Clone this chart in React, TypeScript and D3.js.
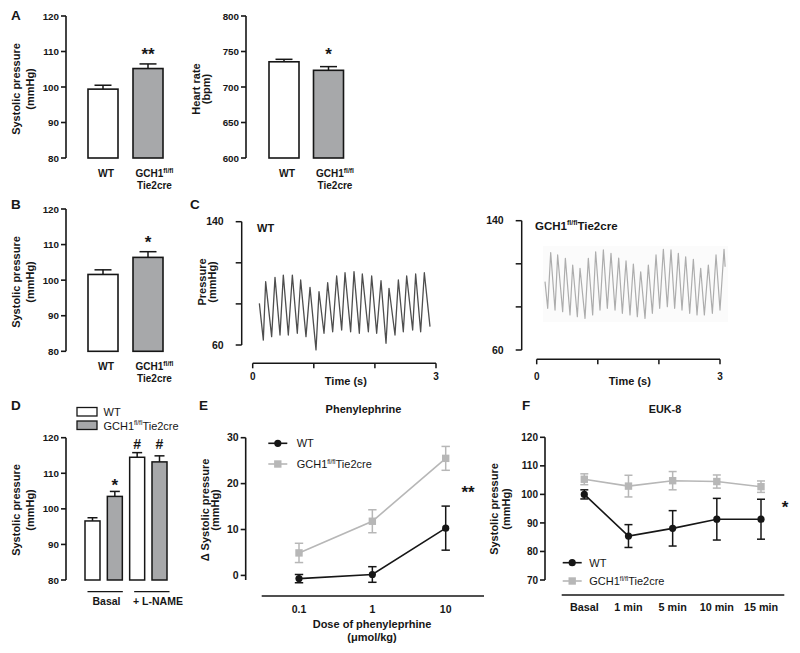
import React from "react";
import * as d3 from "d3";

const FONT = "'Liberation Sans', Arial, Helvetica, sans-serif";
const INK = "#161616";
const KO_GRAY = "#b7b7b7";
const BAR_GRAY = "#a7a8aa";

// ---------- data ----------
const groups = ["WT", "GCH1fl/fl Tie2cre"];
const sbpA = [99.4, 105.2];
const sbpAErr = [1.1, 1.3];
const hrA = [735.5, 723.5];
const hrAErr = [3.5, 5.2];
const sbpB = [101.6, 106.4];
const sbpBErr = [1.3, 1.6];
const sbpTicks = [80, 90, 100, 110, 120];
const hrTicks = [600, 650, 700, 750, 800];

const dCats = ["WT basal", "KO basal", "WT L-NAME", "KO L-NAME"];
const dVals = [96.6, 103.5, 114.5, 113.2];
const dErr = [0.9, 1.4, 1.3, 1.7];

const doses = [0.1, 1, 10];
const doseLabels = ["0.1", "1", "10"];
const eWT = [-0.7, 0.2, 10.3];
const eWTErr = [0.9, 1.7, 4.8];
const eKO = [4.9, 11.8, 25.5];
const eKOErr = [2.1, 2.5, 2.6];
const eTicks = [0, 10, 20, 30];

const fCats = ["Basal", "1 min", "5 min", "10 min", "15 min"];
const fWT = [100, 85.4, 88.1, 91.3, 91.3];
const fWTErr = [1.6, 4.0, 6.2, 7.3, 7.0];
const fKO = [105.3, 102.9, 104.8, 104.5, 102.7];
const fKOErr = [1.9, 3.8, 3.2, 2.3, 2.0];
const fTicks = [70, 80, 90, 100, 110, 120];

// pressure traces (time s, mmHg), read peak/trough by peak/trough
const wtTraceT = [0.109, 0.174, 0.212, 0.31, 0.365, 0.447, 0.501, 0.583, 0.649, 0.73, 0.785, 0.872, 0.938, 1.036, 1.085, 1.167, 1.227, 1.309, 1.374, 1.456, 1.511, 1.603, 1.658, 1.745, 1.794, 1.893, 1.947, 2.029, 2.1, 2.182, 2.231, 2.329, 2.384, 2.465, 2.52, 2.618, 2.667, 2.749, 2.809, 2.902];
const wtTraceP = [87.0, 63.2, 101.1, 65.4, 103.9, 66.5, 105.4, 66.5, 105.4, 67.6, 102.2, 65.4, 97.4, 56.8, 94.6, 67.6, 100.4, 68.6, 104.8, 69.7, 106.9, 68.6, 107.6, 67.6, 106.1, 68.6, 104.8, 67.6, 101.7, 61.1, 96.8, 66.5, 102.2, 68.6, 104.8, 69.7, 106.1, 68.6, 106.9, 71.9];
const koTraceT = [0.136, 0.18, 0.229, 0.3, 0.343, 0.425, 0.469, 0.545, 0.589, 0.665, 0.709, 0.791, 0.845, 0.916, 0.965, 1.036, 1.091, 1.156, 1.216, 1.282, 1.342, 1.402, 1.462, 1.527, 1.582, 1.647, 1.702, 1.773, 1.827, 1.893, 1.953, 2.013, 2.073, 2.138, 2.198, 2.258, 2.318, 2.378, 2.438, 2.504, 2.564, 2.624, 2.684, 2.744, 2.809, 2.875, 2.935, 3.0, 3.066, 3.084];
const koTraceP = [102.3, 85.8, 120.3, 84.7, 118.8, 83.7, 116.7, 81.7, 112.6, 80.6, 110.5, 79.6, 116.7, 81.7, 120.8, 84.7, 121.9, 85.8, 119.8, 84.7, 116.9, 82.7, 115.1, 81.7, 113.2, 80.6, 108.4, 79.6, 112.6, 82.7, 118.8, 85.8, 122.3, 86.8, 121.9, 85.8, 119.8, 84.7, 117.7, 82.7, 116.1, 81.7, 110.5, 81.7, 112.6, 82.7, 118.8, 84.7, 122.3, 111.5];
const traceYTicks = [60, 86.67, 113.33, 140];
const traceXTicks = [0, 1, 2, 3];

// ---------- helpers ----------
function YAxis({ x, scale, ticks, fs = 9.8, tickLen = 5, gap = 2 }: any) {
  const [d0, d1] = scale.domain();
  return (
    <g>
      <line x1={x} x2={x} y1={scale(d0)} y2={scale(d1)} stroke={INK} strokeWidth={1.6} />
      {ticks.map((t: number) => (
        <g key={t}>
          <line x1={x - tickLen} x2={x} y1={scale(t)} y2={scale(t)} stroke={INK} strokeWidth={1.6} />
          <text x={x - tickLen - gap} y={scale(t)} dy="0.36em" textAnchor="end" fontSize={fs} fontWeight={700} fill={INK}>
            {t}
          </text>
        </g>
      ))}
    </g>
  );
}

function RotLabel({ x, y, lines, fs = 11, gap = 13 }: any) {
  return (
    <g>
      {lines.map((l: string, i: number) => (
        <text key={i} transform={`translate(${x + i * gap},${y}) rotate(-90)`} textAnchor="middle" fontSize={fs} fontWeight={700} fill={INK}>
          {l}
        </text>
      ))}
    </g>
  );
}

function KOName({ x, y, fs, anchor = "start", weight = 400, supFs }: any) {
  return (
    <text x={x} y={y} fontSize={fs} fontWeight={weight} textAnchor={anchor} fill={INK}>
      GCH1
      <tspan dy={-fs * 0.4} fontSize={supFs}>fl/fl</tspan>
      <tspan dy={fs * 0.4}>Tie2cre</tspan>
    </text>
  );
}

function BarChart({ xs, y, axisX, values, errs, barW, capW, ticks, labelY, sig, sigY }: any) {
  const base = y.domain()[0];
  return (
    <g>
      {values.map((v: number, i: number) => {
        const cx = xs(groups[i]);
        return (
          <g key={i}>
            <line x1={cx} x2={cx} y1={y(v)} y2={y(v + errs[i])} stroke={INK} strokeWidth={1.5} />
            <line x1={cx - capW / 2} x2={cx + capW / 2} y1={y(v + errs[i])} y2={y(v + errs[i])} stroke={INK} strokeWidth={1.5} />
            <rect x={cx - barW / 2} y={y(v)} width={barW} height={y(base) - y(v)} fill={i === 0 ? "#fff" : BAR_GRAY} stroke={INK} strokeWidth={1.6} />
          </g>
        );
      })}
      <YAxis x={axisX} scale={y} ticks={ticks} />
      <text x={xs(groups[0]) + 3} y={labelY} textAnchor="middle" fontSize={10.3} fontWeight={700} fill={INK}>WT</text>
      <text x={xs(groups[1]) + 6.5} y={labelY} textAnchor="middle" fontSize={10} fontWeight={700} fill={INK}>
        GCH1<tspan dy={-4} fontSize={6.8}>fl/fl</tspan>
      </text>
      <text x={xs(groups[1]) + 6.5} y={labelY + 11.5} textAnchor="middle" fontSize={10} fontWeight={700} fill={INK}>Tie2cre</text>
      <text x={xs(groups[1])} y={sigY} textAnchor="middle" fontSize={17} fontWeight={700} fill={INK}>{sig}</text>
    </g>
  );
}

function Marker({ kind, x, y }: any) {
  return kind === "circle" ? (
    <circle cx={x} cy={y} r={3.6} fill={INK} />
  ) : (
    <rect x={x - 3.7} y={y - 3.7} width={7.4} height={7.4} fill={KO_GRAY} />
  );
}

function Series({ xs, ys, vals, errs, color, kind, cap }: any) {
  const line = d3.line<number>().x((_, i) => xs[i]).y((v) => ys(v));
  return (
    <g>
      {vals.map((v: number, i: number) => (
        <g key={i}>
          <line x1={xs[i]} x2={xs[i]} y1={ys(v - errs[i])} y2={ys(v + errs[i])} stroke={color} strokeWidth={1.5} />
          <line x1={xs[i] - cap} x2={xs[i] + cap} y1={ys(v + errs[i])} y2={ys(v + errs[i])} stroke={color} strokeWidth={1.5} />
          <line x1={xs[i] - cap} x2={xs[i] + cap} y1={ys(v - errs[i])} y2={ys(v - errs[i])} stroke={color} strokeWidth={1.5} />
        </g>
      ))}
      <path d={line(vals) || ""} fill="none" stroke={color} strokeWidth={1.6} />
      {vals.map((v: number, i: number) => (
        <Marker key={"m" + i} kind={kind} x={xs[i]} y={ys(v)} />
      ))}
    </g>
  );
}

function LegendItem({ x, y, kind, color, children }: any) {
  return (
    <g>
      <line x1={x} x2={x + 19} y1={y} y2={y} stroke={color} strokeWidth={1.6} />
      <Marker kind={kind} x={x + 9.5} y={y} />
      {children}
    </g>
  );
}

function Trace({ t, p, xs, ys, color, width }: any) {
  const line = d3.line<number>().x((_, i) => xs(t[i])).y((v) => ys(v));
  return <path d={line(p) || ""} fill="none" stroke={color} strokeWidth={width} strokeLinejoin="round" />;
}

export default function App() {
  // A
  const aY = d3.scaleLinear().domain([80, 120]).range([158, 16]);
  const aX = d3.scalePoint<string>().domain(groups).range([103, 148]);
  const hrY = d3.scaleLinear().domain([600, 800]).range([158, 16]);
  const hrX = d3.scalePoint<string>().domain(groups).range([284, 328.5]);
  // B
  const bY = d3.scaleLinear().domain([80, 120]).range([351.3, 209]);
  // C
  const cWX = d3.scaleLinear().domain([0, 3]).range([252.7, 436]);
  const cWY = d3.scaleLinear().domain([60, 140]).range([345, 221.7]);
  const cKX = d3.scaleLinear().domain([0, 3]).range([536.7, 720]);
  const cKY = d3.scaleLinear().domain([60, 140]).range([350, 220.7]);
  // D
  const dY = d3.scaleLinear().domain([80, 120]).range([580, 437.7]);
  const dX = d3.scalePoint<string>().domain(dCats).range([92.5, 159.5]);
  // E
  const eX = d3.scaleLog().domain([0.1, 10]).range([299, 445.7]);
  const eY = d3.scaleLinear().domain([-1, 30]).range([580, 437.7]);
  // F
  const fX = d3.scalePoint<string>().domain(fCats).range([584.3, 761]);
  const fY = d3.scaleLinear().domain([70, 120]).range([580, 437.3]);

  const traceAxis = (ax: number, ys: any, xs: any, xAxisY: number) => (
    <g>
      <line x1={ax} x2={ax} y1={ys(60)} y2={ys(140)} stroke={INK} strokeWidth={1.5} />
      {traceYTicks.map((t) => (
        <line key={t} x1={ax - 6} x2={ax} y1={ys(t)} y2={ys(t)} stroke={INK} strokeWidth={1.5} />
      ))}
      <text x={ax - 18} y={ys(140)} dy="0.36em" textAnchor="end" fontSize={10.5} fontWeight={700} fill={INK}>140</text>
      <text x={ax - 18} y={ys(60)} dy="0.36em" textAnchor="end" fontSize={10.5} fontWeight={700} fill={INK}>60</text>
      <line x1={xs(0)} x2={xs(3)} y1={xAxisY} y2={xAxisY} stroke={INK} strokeWidth={1.5} />
      {traceXTicks.map((t) => (
        <line key={t} x1={xs(t)} x2={xs(t)} y1={xAxisY} y2={xAxisY + 5} stroke={INK} strokeWidth={1.5} />
      ))}
      <text x={xs(0)} y={380} textAnchor="middle" fontSize={10} fontWeight={700} fill={INK}>0</text>
      <text x={xs(3)} y={380} textAnchor="middle" fontSize={10} fontWeight={700} fill={INK}>3</text>
      <text x={(xs(0) + xs(3)) / 2 + 1.5} y={384.5} textAnchor="middle" fontSize={11} fontWeight={700} fill={INK}>Time (s)</text>
    </g>
  );

  const eXs = doses.map((d) => eX(d));
  const fXs = fCats.map((c) => fX(c) as number);

  return (
    <svg width={800} height={653} style={{ position: "absolute", left: 0, top: 0, background: "#fff" }} fontFamily={FONT}>
      <rect x={0} y={0} width={800} height={653} fill="#fff" />

      {/* panel letters */}
      <text x={11} y={20} fontSize={13.5} fontWeight={700} fill={INK}>A</text>
      <text x={11} y={208.5} fontSize={13.5} fontWeight={700} fill={INK}>B</text>
      <text x={190} y={208.5} fontSize={13.5} fontWeight={700} fill={INK}>C</text>
      <text x={11} y={410} fontSize={13.5} fontWeight={700} fill={INK}>D</text>
      <text x={199} y={410} fontSize={13.5} fontWeight={700} fill={INK}>E</text>
      <text x={522} y={410} fontSize={13.5} fontWeight={700} fill={INK}>F</text>

      {/* A left */}
      <RotLabel x={20} y={89} lines={["Systolic pressure", "(mmHg)"]} gap={14} />
      <BarChart xs={aX} y={aY} axisX={66} values={sbpA} errs={sbpAErr} barW={30} capW={17} ticks={sbpTicks} labelY={177} sig="**" sigY={60} />
      {/* A right */}
      <RotLabel x={200} y={89} lines={["Heart rate", "(bpm)"]} gap={10} />
      <BarChart xs={hrX} y={hrY} axisX={246} values={hrA} errs={hrAErr} barW={30} capW={17} ticks={hrTicks} labelY={177} sig="*" sigY={60} />

      {/* B */}
      <RotLabel x={20} y={282} lines={["Systolic pressure", "(mmHg)"]} gap={14} />
      <BarChart xs={aX} y={bY} axisX={66} values={sbpB} errs={sbpBErr} barW={30} capW={17} ticks={sbpTicks} labelY={370} sig="*" sigY={248} />

      {/* C WT trace */}
      <RotLabel x={206} y={282} lines={["Pressure", "(mmHg)"]} gap={9.5} />
      {traceAxis(241.7, cWY, cWX, 363.3)}
      <text x={257} y={231.5} fontSize={11} fontWeight={700} fill={INK}>WT</text>
      <Trace t={wtTraceT} p={wtTraceP} xs={cWX} ys={cWY} color="#4e4e4e" width={1.3} />

      {/* C KO trace */}
      {traceAxis(521.7, cKY, cKX, 359.3)}
      <KOName x={535} y={230} fs={11.5} weight={700} supFs={7} />
      <rect x={543} y={246} width={185} height={76} fill="#fbfbfb" />
      <Trace t={koTraceT} p={koTraceP} xs={cKX} ys={cKY} color="#adadad" width={1.2} />

      {/* D */}
      <rect x={77} y={407.5} width={20} height={8.5} fill="#fff" stroke={INK} strokeWidth={1.3} />
      <text x={103.5} y={415.5} fontSize={11} fill={INK}>WT</text>
      <rect x={77} y={421} width={20} height={8.5} fill={BAR_GRAY} stroke={INK} strokeWidth={1.3} />
      <KOName x={103.5} y={429.5} fs={11} supFs={6.5} />
      <RotLabel x={20} y={510} lines={["Systolic pressure", "(mmHg)"]} gap={14} />
      {dVals.map((v, i) => {
        const cx = dX(dCats[i]) as number;
        return (
          <g key={i}>
            <line x1={cx} x2={cx} y1={dY(v)} y2={dY(v + dErr[i])} stroke={INK} strokeWidth={1.5} />
            <line x1={cx - 5} x2={cx + 5} y1={dY(v + dErr[i])} y2={dY(v + dErr[i])} stroke={INK} strokeWidth={1.5} />
            <rect x={cx - 7.5} y={dY(v)} width={15} height={dY(80) - dY(v)} fill={i % 2 === 0 ? "#fff" : BAR_GRAY} stroke={INK} strokeWidth={1.5} />
          </g>
        );
      })}
      <YAxis x={66} scale={dY} ticks={sbpTicks} />
      <text x={dX(dCats[1])} y={491} textAnchor="middle" fontSize={17} fontWeight={700} fill={INK}>*</text>
      <text x={dX(dCats[2])} y={448.5} textAnchor="middle" fontSize={14} fontWeight={700} fill={INK}>#</text>
      <text x={dX(dCats[3])} y={448.5} textAnchor="middle" fontSize={14} fontWeight={700} fill={INK}>#</text>
      <line x1={(dX(dCats[0]) as number) - 5} x2={(dX(dCats[1]) as number) + 8} y1={591.7} y2={591.7} stroke={INK} strokeWidth={1.3} />
      <line x1={(dX(dCats[2]) as number) - 3} x2={(dX(dCats[3]) as number) + 10} y1={591.7} y2={591.7} stroke={INK} strokeWidth={1.3} />
      <text x={106.5} y={605} textAnchor="middle" fontSize={10.5} fontWeight={700} fill={INK}>Basal</text>
      <text x={158} y={605} textAnchor="middle" fontSize={10.5} fontWeight={700} fill={INK}>+ L-NAME</text>

      {/* E */}
      <text x={363.5} y={413} textAnchor="middle" fontSize={11} fontWeight={700} fill={INK}>Phenylephrine</text>
      <RotLabel x={209} y={510} lines={["\u0394 Systolic pressure", "(mmHg)"]} gap={10} />
      <YAxis x={245.7} scale={eY} ticks={eTicks} fs={10.5} />
      <line x1={261.7} x2={484} y1={596} y2={596} stroke={INK} strokeWidth={1.6} />
      {doses.map((d, i) => (
        <text key={d} x={eX(d)} y={613} textAnchor="middle" fontSize={10.5} fontWeight={700} fill={INK}>{doseLabels[i]}</text>
      ))}
      <text x={372} y={627.5} textAnchor="middle" fontSize={11} fontWeight={700} fill={INK}>Dose of phenyleprhine</text>
      <text x={372} y={641} textAnchor="middle" fontSize={11} fontWeight={700} fill={INK}>{"(\u03bcmol/kg)"}</text>
      <Series xs={eXs} ys={eY} vals={eKO} errs={eKOErr} color={KO_GRAY} kind="square" cap={4.2} />
      <Series xs={eXs} ys={eY} vals={eWT} errs={eWTErr} color={INK} kind="circle" cap={4.2} />
      <text x={468} y={498} textAnchor="middle" fontSize={17} fontWeight={700} fill={INK}>**</text>
      <LegendItem x={268.3} y={443.3} kind="circle" color={INK}>
        <text x={296.7} y={447} fontSize={11} fill={INK}>WT</text>
      </LegendItem>
      <LegendItem x={268.3} y={464} kind="square" color={KO_GRAY}>
        <KOName x={296.7} y={468} fs={11} supFs={6.5} />
      </LegendItem>

      {/* F */}
      <text x={665} y={413} textAnchor="middle" fontSize={10.8} fontWeight={700} fill={INK}>EUK-8</text>
      <RotLabel x={498} y={509} lines={["Systolic pressure", "(mmHg)"]} gap={12} />
      <YAxis x={545} scale={fY} ticks={fTicks} fs={10} />
      <line x1={561.7} x2={784.3} y1={595} y2={595} stroke={INK} strokeWidth={1.6} />
      {fCats.map((c) => (
        <text key={c} x={fX(c)} y={611} textAnchor="middle" fontSize={10.8} fontWeight={700} fill={INK}>{c}</text>
      ))}
      <Series xs={fXs} ys={fY} vals={fKO} errs={fKOErr} color={KO_GRAY} kind="square" cap={4} />
      <Series xs={fXs} ys={fY} vals={fWT} errs={fWTErr} color={INK} kind="circle" cap={4} />
      <text x={785} y={513} textAnchor="middle" fontSize={17} fontWeight={700} fill={INK}>*</text>
      <LegendItem x={562.7} y={562.7} kind="circle" color={INK}>
        <text x={589.3} y={566.5} fontSize={11} fill={INK}>WT</text>
      </LegendItem>
      <LegendItem x={562.7} y={581} kind="square" color={KO_GRAY}>
        <KOName x={589.3} y={585} fs={11} supFs={6.5} />
      </LegendItem>
    </svg>
  );
}
